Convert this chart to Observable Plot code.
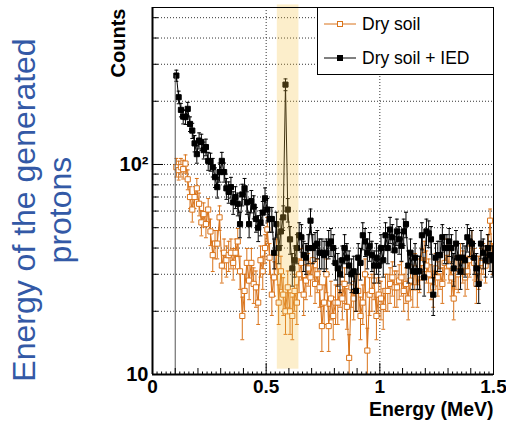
<!DOCTYPE html>
<html>
<head>
<meta charset="utf-8">
<script src="https://cdn.jsdelivr.net/npm/d3@7"></script>
<script src="https://cdn.jsdelivr.net/npm/@observablehq/plot@0.6"></script>
<style>
html, body { margin: 0; padding: 0; background: #fff; }
#wrap { position: relative; width: 506px; height: 422px; overflow: hidden; font-family: "Liberation Sans", Arial, Helvetica, sans-serif; }
#chart { position: absolute; left: 0; top: 0; }
#side { position: absolute; left: -158px; top: 174px; width: 400px; height: 72px; transform: rotate(-90deg); text-align: center; font-size: 32px; line-height: 36px; color: #3359a6; white-space: nowrap; }
#legend { position: absolute; left: 317px; top: 7px; width: 177px; height: 68px; box-sizing: border-box; background: #fff; border: 1px solid #000; }
.row { position: absolute; left: 0; height: 20px; width: 175px; }
.row svg { position: absolute; left: 5px; top: 0; }
.row span { position: absolute; left: 44px; top: 0; line-height: 20px; font-size: 17.5px; color: #000; white-space: nowrap; }
</style>
</head>
<body>
<div id="wrap">
  <div id="chart"></div>
  <div id="side">Energy of the generated<br>protons</div>
  <div id="legend"></div>
</div>
<script>
// ---- data (histogram bins: 0.01 MeV wide, starting at 0.1 MeV) ----
const binStart = 0.1;
const binWidth = 0.01;
const seriesNames = ["Dry soil", "Dry soil + IED"];
const drySoil = [
  97, 94, 97, 95, 101, 85, 70, 61, 70, 77,
  65, 53, 58, 52, 61, 48, 37, 42, 42, 56,
  33, 38, 35, 37, 38, 34, 38, 43, 31, 19,
  25, 34, 28, 34, 27, 26, 22, 35, 31, 40,
  49, 36, 24, 29, 38, 22, 31, 24, 20, 26,
  20, 19, 25, 22, 30, 34, 24, 28, 32, 29,
  35, 27, 30, 26,
  17, 22, 30, 17, 23, 19, 22, 22, 26, 23,
  27, 21, 12, 26, 23, 25, 25, 19, 22, 30,
  13, 24, 25, 28, 19, 24, 23, 21, 25, 25,
  27, 29, 26, 26, 28, 29,
  25, 27, 23, 28, 26, 32, 26, 30, 34, 37,
  33, 30, 28, 26, 32, 29, 31, 27, 34, 38,
  33, 29, 23, 31, 30, 36, 33, 29, 31, 35,
  42, 34, 27, 31, 34, 36, 33, 40, 54, 36
];
const drySoilIED = [
  265, 209, 182, 169, 168, 184, 156, 145, 126, 112,
  130, 128, 117, 121, 104, 103, 97, 87, 78, 92,
  104, 92, 77, 74, 78, 66, 70, 65, 52, 72,
  77, 66, 52, 67, 63, 55, 50, 53, 59, 69,
  61, 55, 55, 38, 52, 40, 48, 56, 240,
  61, 44, 32, 35, 40, 46, 45, 37, 36, 40,
  54, 40, 41, 42,
  38, 38, 37, 38, 42, 43, 40, 34, 32, 30,
  35, 40, 36, 33, 30, 31, 25, 36, 34, 46,
  43, 38, 41, 37, 33, 36, 33, 40, 35, 46,
  40, 49, 45, 39, 48, 44, 41,
  48, 52, 33, 38, 31, 36, 31, 31, 46, 29,
  48, 47, 44, 24, 36, 37, 37, 45, 40, 40,
  43, 40, 32, 42, 36, 31, 36, 35, 45, 43,
  42, 36, 32, 27, 42, 38, 35, 40, 37, 35
];
const xTicks = [0, 0.5, 1, 1.5];
const xTickLabels = ["0", "0.5", "1", "1.5"];
const yTicks = [10, 100];
const yTickLabels = ["10", "10\u00b2"];
const yMinorTicks = [20, 30, 40, 50, 60, 70, 80, 90, 200, 300, 400, 500];
const xGrid = [0.5, 1];
const highlight = [{x1: 0.549, x2: 0.644, y1: 10.6, y2: 575}];

// ---- layout ----
const W = 506, H = 422, mL = 152, mR = 13, mT = 7, mB = 48;
const plotW = W - mL - mR, plotH = H - mT - mB;
const yDomain = [10, 559];
const orange = "#d9731a";
const black = "#000000";
const FONT = "'Liberation Sans', Arial, Helvetica, sans-serif";

const toRows = vals => vals.map((v, i) => ({
  e: binStart + binWidth * (i + 0.5),
  v,
  lo: v - Math.sqrt(v),
  hi: v + Math.sqrt(v)
}));
const soil = toRows(drySoil);
const ied = toRows(drySoilIED);

const cap = {draw(ctx, size) { const w = Math.sqrt(size) / 2; ctx.moveTo(-w, 0); ctx.lineTo(w, 0); }};

function seriesMarks(rows, color, filled) {
  return [
    Plot.line(rows, {x: "e", y: "v", stroke: color, strokeWidth: 1, clip: true}),
    Plot.ruleX(rows, {x: "e", y1: "lo", y2: "hi", stroke: color, strokeWidth: 1, clip: true}),
    Plot.dot(rows, {x: "e", y: "lo", symbol: cap, r: 2.2, stroke: color, fill: "none", strokeWidth: 1, clip: true}),
    Plot.dot(rows, {x: "e", y: "hi", symbol: cap, r: 2.2, stroke: color, fill: "none", strokeWidth: 1, clip: true}),
    Plot.dot(rows, {x: "e", y: "v", symbol: "square", r: 2.9, stroke: color, fill: filled ? color : "white", strokeWidth: 1, clip: true})
  ];
}

const chart = Plot.plot({
  width: W, height: H,
  marginLeft: mL, marginRight: mR, marginTop: mT, marginBottom: mB,
  style: {fontFamily: FONT, background: "white", overflow: "visible"},
  x: {domain: [0, 1.5], axis: null},
  y: {type: "log", domain: yDomain, axis: null},
  marks: [
    Plot.ruleY([...yMinorTicks, 100], {y: d => d, stroke: "#333", strokeDasharray: "1,2", strokeWidth: 1}),
    Plot.ruleX(xGrid, {x: d => d, stroke: "#333", strokeDasharray: "1,2", strokeWidth: 1}),
    ...seriesMarks(soil, orange, false),
    ...seriesMarks(ied, black, true),
    Plot.ruleX([binStart], {x: d => d, y1: yDomain[0], y2: drySoilIED[0], stroke: "#555", strokeWidth: 1}),
    Plot.rect(highlight, {x1: "x1", x2: "x2", y1: "y1", y2: "y2", fill: "#f5c040", fillOpacity: 0.27}),
    Plot.frame({stroke: "#000", strokeWidth: 1}),
    Plot.ruleX([0], {x: d => d, stroke: "#000", strokeWidth: 2}),
    Plot.ruleY([yDomain[0]], {y: d => d, stroke: "#000", strokeWidth: 2}),
    Plot.tickX(xTicks, {x: d => d, insetTop: plotH - 11, stroke: "#000"}),
    Plot.tickX(d3.range(1, 15).filter(i => i % 5 !== 0).map(i => i / 10), {x: d => d, insetTop: plotH - 6, stroke: "#000"}),
    Plot.tickX(d3.range(1, 75).filter(i => i % 5 !== 0).map(i => i / 50), {x: d => d, insetTop: plotH - 2.5, stroke: "#000"}),
    Plot.tickY(yTicks, {y: d => d, insetRight: plotW - 11, stroke: "#000"}),
    Plot.tickY(yMinorTicks, {y: d => d, insetRight: plotW - 6, stroke: "#000"}),
    Plot.text(yTicks, {y: d => d, text: (d, i) => yTickLabels[i], frameAnchor: "left", textAnchor: "end", lineAnchor: "middle", dx: -4, fontSize: 20, fontWeight: "bold", fill: "#000"}),
    Plot.text(xTicks, {x: d => d, text: (d, i) => xTickLabels[i], frameAnchor: "bottom", lineAnchor: "top", dy: 5, fontSize: 19, fontWeight: "bold", fill: "#000"}),
    Plot.text(["Energy (MeV)"], {text: d => d, frameAnchor: "bottom-right", textAnchor: "end", lineAnchor: "bottom", dy: 41, fontSize: 19.5, fontWeight: "bold", fill: "#000"}),
    Plot.text(["Counts"], {text: d => d, frameAnchor: "top-left", rotate: -90, textAnchor: "end", lineAnchor: "bottom", dx: -28, dy: 1, fontSize: 20, fontWeight: "bold", fill: "#000"})
  ]
});
document.getElementById("chart").appendChild(chart);

// ---- legend ----
const legend = document.getElementById("legend");
const legendRows = [
  {name: seriesNames[0], color: orange, filled: false, top: 6},
  {name: seriesNames[1], color: black, filled: true, top: 40}
];
for (const r of legendRows) {
  const row = document.createElement("div");
  row.className = "row";
  row.style.top = r.top + "px";
  row.innerHTML =
    `<svg width="34" height="20"><line x1="1" y1="10" x2="33" y2="10" stroke="${r.color}" stroke-width="1"/>` +
    `<rect x="14.5" y="7.5" width="5" height="5" fill="${r.filled ? r.color : "white"}" stroke="${r.color}" stroke-width="1"/></svg>` +
    `<span></span>`;
  row.querySelector("span").textContent = r.name;
  legend.appendChild(row);
}
</script>
</body>
</html>
